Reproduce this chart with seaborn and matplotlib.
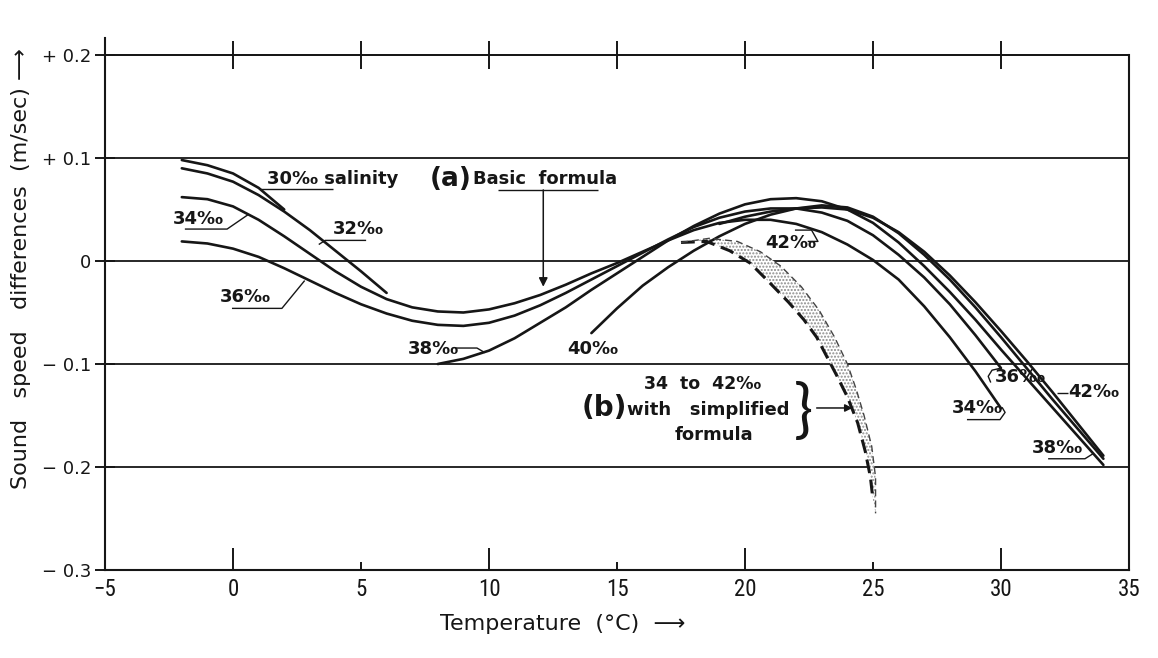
"""
Sound speed differences against temperature for several salinities:
(a) basic formula curves and (b) the simplified formula band.
"""

import numpy as np
import pandas as pd
import matplotlib
matplotlib.use('Agg')
import matplotlib.pyplot as plt
import seaborn as sns
from matplotlib import font_manager

# Curve readings: temperature (degC) and speed difference (m/sec)
temp_30 = [-2, -1, 0, 1, 2]
diff_30 = [0.098, 0.093, 0.085, 0.071, 0.050]

temp_32 = list(range(-2, 7))
diff_32 = [0.090, 0.085, 0.077, 0.064, 0.048, 0.030, 0.010, -0.010, -0.031]

temp_34 = list(range(-2, 31))
diff_34 = [0.062, 0.060, 0.053, 0.040, 0.024, 0.007, -0.010, -0.025, -0.037,
           -0.045, -0.049, -0.050, -0.047, -0.041, -0.033, -0.023, -0.012,
           -0.002, 0.009, 0.020, 0.030, 0.037, 0.040, 0.040, 0.036, 0.028,
           0.016, 0.001, -0.018, -0.044, -0.074, -0.107, -0.143]

temp_36 = list(range(-2, 31))
diff_36 = [0.019, 0.017, 0.012, 0.004, -0.007, -0.019, -0.031, -0.042, -0.051,
           -0.058, -0.062, -0.063, -0.060, -0.053, -0.043, -0.031, -0.018,
           -0.005, 0.008, 0.021, 0.033, 0.042, 0.048, 0.051, 0.051, 0.047,
           0.039, 0.025, 0.006, -0.016, -0.042, -0.072, -0.104]

temp_38 = list(range(8, 35))
diff_38 = [-0.100, -0.095, -0.087, -0.075, -0.060, -0.045, -0.028, -0.012,
           0.004, 0.020, 0.034, 0.046, 0.055, 0.060, 0.061, 0.058, 0.050,
           0.037, 0.018, -0.005, -0.030, -0.057, -0.086, -0.114, -0.142,
           -0.170, -0.198]

temp_40 = list(range(14, 35))
diff_40 = [-0.070, -0.046, -0.024, -0.006, 0.010, 0.024, 0.036, 0.045, 0.051,
           0.054, 0.052, 0.043, 0.027, 0.006, -0.018, -0.045, -0.074, -0.104,
           -0.134, -0.163, -0.192]

temp_42 = list(range(19, 35))
diff_42 = [0.036, 0.043, 0.048, 0.051, 0.052, 0.050, 0.042, 0.028, 0.009,
           -0.014, -0.040, -0.068, -0.097, -0.127, -0.158, -0.189]

# Simplified formula band (34 to 42 per mille), left and right edges
band_left_temp = [17.5, 18.5, 19.4, 20.2, 21.0, 21.7, 22.3, 22.8, 23.2, 23.6,
                  24.0, 24.4, 24.7, 24.9, 25.0]
band_left_diff = [0.018, 0.019, 0.010, -0.002, -0.022, -0.040, -0.057, -0.074,
                  -0.093, -0.112, -0.132, -0.157, -0.185, -0.210, -0.232]
band_right_temp = [17.5, 18.6, 19.7, 20.6, 21.4, 22.2, 22.9, 23.5, 24.0, 24.35,
                   24.65, 24.95, 25.1, 25.1]
band_right_diff = [0.018, 0.022, 0.019, 0.009, -0.005, -0.025, -0.048, -0.074,
                   -0.100, -0.125, -0.150, -0.180, -0.210, -0.245]

x_major = [0, 10, 20, 30]
x_minor = [-5, 5, 15, 25, 35]
y_ticks = [-0.3, -0.2, -0.1, 0.0, 0.1, 0.2]
y_labels = ['\u2212 0.3', '\u2212 0.2', '\u2212 0.1', '0', '+ 0.1', '+ 0.2']

ink = '#161616'

sns.set_theme(style='ticks')
names = {f.name for f in font_manager.fontManager.ttflist}
narrow = next((n for n in ['Liberation Sans Narrow', 'Roboto Condensed',
                           'Liberation Sans'] if n in names), 'DejaVu Sans')
plt.rcParams['font.family'] = ['DejaVu Sans']
plt.rcParams['hatch.linewidth'] = 1.0
bold = dict(fontweight='bold', family=['DejaVu Sans'], color=ink)

curves = pd.concat([
    pd.DataFrame({'temperature': t, 'difference': d, 'salinity': s})
    for s, t, d in [(30, temp_30, diff_30), (32, temp_32, diff_32),
                    (34, temp_34, diff_34), (36, temp_36, diff_36),
                    (38, temp_38, diff_38), (40, temp_40, diff_40),
                    (42, temp_42, diff_42)]
], ignore_index=True)

fig = plt.figure(figsize=(11.58, 6.58), dpi=100)
ax = fig.add_axes([105 / 1158, 88 / 658, 1024 / 1158, 532 / 658])

ymin, ymax = -0.3, 0.2165
ax.set_xlim(-5, 35)
ax.set_ylim(ymin, ymax)

ax.grid(axis='y', color=ink, linewidth=1.3)
ax.grid(axis='x', visible=False)

sns.lineplot(data=curves, x='temperature', y='difference', units='salinity',
             estimator=None, sort=False, color=ink, linewidth=1.9, ax=ax)

# band (b): dotted fill between a heavy dashed edge and a light one
ax.fill(np.r_[band_left_temp, band_right_temp[::-1]],
        np.r_[band_left_diff, band_right_diff[::-1]],
        facecolor='white', edgecolor='#8c8c8c', hatch='.....', linewidth=0)
ax.plot(band_left_temp, band_left_diff, color=ink, linewidth=2.2,
        linestyle=(0, (4.5, 2.2)))
ax.plot(band_right_temp, band_right_diff, color='#444444', linewidth=1.0,
        linestyle=(0, (5, 3)))

# frame
for side in ['left', 'bottom', 'right']:
    ax.spines[side].set_linewidth(1.5)
    ax.spines[side].set_color(ink)
ax.spines['top'].set_visible(False)
ax.spines['right'].set_bounds(-0.3, 0.2)

ax.set_xticks(x_major, labels=[str(v) for v in x_major])
ax.set_xticks(x_minor, labels=['\u2212' + str(-v) if v < 0 else str(v) for v in x_minor],
              minor=True)
ax.set_yticks(y_ticks, labels=y_labels)
ax.tick_params(axis='x', which='major', direction='in', length=16, width=1.4,
               color=ink, top=False)
ax.tick_params(axis='x', which='minor', direction='in', length=6, width=1.4,
               color=ink, top=False)
ax.tick_params(axis='x', which='both', labelsize=16.5, pad=6, labelcolor=ink)
ax.tick_params(axis='y', direction='inout', length=14, width=1.4, color=ink,
               right=False, labelsize=13, pad=3, labelcolor=ink)
for lab in ax.get_xticklabels(which='both'):
    lab.set_family([narrow, 'DejaVu Sans'])

# crossing ticks along the +0.2 line
top = ax.secondary_xaxis((0.2 - ymin) / (ymax - ymin))
top.set_xticks(np.arange(0, 31, 5))
top.tick_params(direction='inout', length=20, width=1.4, color=ink,
                labeltop=False, labelbottom=False)
for sp in top.spines.values():
    sp.set_linewidth(1.3)
    sp.set_color(ink)

ax.set_xlabel('')
ax.set_ylabel('')


def leader(xs, ys):
    ax.plot(xs, ys, color=ink, linewidth=1.0, solid_capstyle='butt')


# (a) labels
ax.text(1.33, 0.080, '30\u2030 salinity', fontsize=13, va='center', **bold)
leader([1.05, 3.9], [0.070, 0.070])
ax.text(3.9, 0.031, '32\u2030', fontsize=13, va='center', **bold)
leader([3.35, 3.6, 5.2], [0.016, 0.020, 0.020])
ax.text(-2.34, 0.041, '34\u2030', fontsize=13, va='center', **bold)
leader([-1.88, -0.23, 0.59], [0.031, 0.031, 0.045])
ax.text(-0.5, -0.035, '36\u2030', fontsize=13, va='center', **bold)
leader([-0.04, 1.91, 2.8], [-0.046, -0.046, -0.019])
ax.text(6.84, -0.085, '38\u2030', fontsize=13, va='center', **bold)
leader([8.67, 9.53, 9.84], [-0.0845, -0.0845, -0.089])
ax.text(13.05, -0.085, '40\u2030', fontsize=13, va='center', **bold)

ax.text(7.7, 0.080, '(a)', fontsize=19, va='center', **bold)
ax.text(9.38, 0.080, 'Basic  formula', fontsize=13, va='center', **bold)
leader([10.35, 14.26], [0.069, 0.069])
ax.annotate('', xy=(12.12, -0.025), xytext=(12.12, 0.069),
            arrowprops=dict(arrowstyle='-|>', color=ink, lw=1.1,
                            mutation_scale=13, shrinkA=0, shrinkB=0))

ax.text(20.78, 0.017, '42\u2030', fontsize=13, va='center', **bold)
leader([21.95, 22.6, 22.85, 22.45], [0.030, 0.030, 0.019, 0.019])

ax.text(29.75, -0.113, '36\u2030', fontsize=13, va='center', **bold)
leader([30.0, 29.65, 29.5, 29.6], [-0.104, -0.106, -0.112, -0.118])
ax.text(28.09, -0.143, '34\u2030', fontsize=13, va='center', **bold)
leader([28.67, 29.96, 30.16, 30.04], [-0.154, -0.154, -0.147, -0.142])
ax.text(32.62, -0.127, '42\u2030', fontsize=13, va='center', **bold)
leader([32.19, 32.62], [-0.128, -0.128])
ax.text(31.2, -0.182, '38\u2030', fontsize=13, va='center', **bold)
leader([31.84, 33.28, 33.6], [-0.192, -0.192, -0.187])

# (b) label
ax.text(18.35, -0.119, '34  to  42\u2030', fontsize=12.5, ha='center',
        va='center', **bold)
ax.text(13.6, -0.143, '(b)', fontsize=20, va='center', **bold)
ax.text(15.4, -0.145, 'with   simplified', fontsize=13, va='center', **bold)
ax.text(18.77, -0.169, 'formula', fontsize=13, ha='center', va='center', **bold)
ax.text(22.3, -0.147, '}', fontsize=46, ha='center', va='center',
        fontweight='normal', family=['Lato', 'Liberation Sans'], color=ink)
ax.annotate('', xy=(24.2, -0.1427), xytext=(22.8, -0.1427),
            arrowprops=dict(arrowstyle='-|>', color=ink, lw=1.1,
                            mutation_scale=11, shrinkA=0, shrinkB=0))

# axis titles
fig.text(0.018, 0.592, 'Sound   speed   differences  (m/sec) \u27f6',
         rotation=90, ha='center', va='center', fontsize=16, color=ink)
fig.text(440 / 1158, 1 - 624 / 658, 'Temperature  (\u00b0C)  \u27f6',
         ha='left', va='center', fontsize=16, color=ink)

fig.savefig('out.png', dpi=100, facecolor='white')
plt.close(fig)
